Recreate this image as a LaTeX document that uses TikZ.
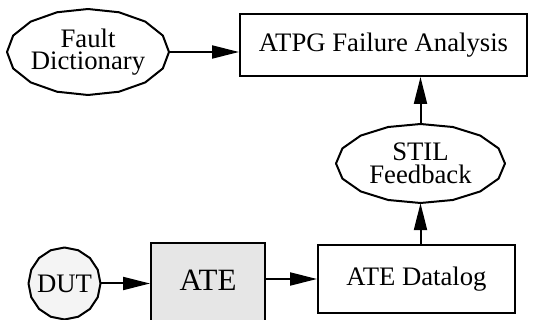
\documentclass[tikz,border=0pt]{standalone}
\usepackage{fontspec}
\setmainfont{Liberation Serif}
\usetikzlibrary{arrows.meta,shapes.geometric}
\definecolor{ategray}{HTML}{E6E6E6}
\definecolor{dutgray}{HTML}{F4F4F4}
\tikzset{
  outline/.style={line width=2pt, line join=round},
  boxnode/.style={rectangle, draw, line width=2pt, inner sep=0pt},
  ovalnode/.style={ellipse, inner sep=0pt},
  txt/.style={font=\fontsize{26.7}{22.5}\selectfont, align=center},
  link/.style={line width=2pt, -{Triangle[length=27pt,width=13pt]}},
}
\begin{document}
\begin{tikzpicture}[x=1pt,y=-1pt]
\useasboundingbox (0,0) rectangle (550,320);

% oval sources, drawn as 16-sided polygons
\node[ovalnode, txt, minimum width=162pt, minimum height=86pt] (fd) at (88,52) {Fault\\Dictionary};
\draw[outline, shift={(fd.center)}] plot[domain=0:360, samples=17] ({81*cos(\x)},{43*sin(\x)}) -- cycle;

\node[ovalnode, txt, minimum width=169pt, minimum height=79pt] (stil) at (420.5,163.5) {STIL\\Feedback};
\draw[outline, shift={(stil.center)}] plot[domain=0:360, samples=17] ({84.5*cos(\x)},{39.5*sin(\x)}) -- cycle;

\node[circle, fill=dutgray, txt, minimum size=72pt, inner sep=0pt] (dut) at (64.5,283.5) {DUT};
\draw[outline, shift={(dut.center)}] plot[domain=0:360, samples=17] ({36*cos(\x)},{36*sin(\x)}) -- cycle;

% process boxes
\node[boxnode, txt, minimum width=287pt, minimum height=62pt] (atpg) at (383.5,45) {ATPG Failure Analysis};
\node[boxnode, txt, minimum width=197pt, minimum height=68pt] (dl) at (416.5,279) {ATE Datalog};
\node[boxnode, fill=ategray, font=\fontsize{31}{31}\selectfont, minimum width=114pt, minimum height=84pt, text height=21pt, text depth=9pt] (ate) at (208,285) {ATE};

% flow
\draw[link] (fd.east) -- (atpg.west |- fd.east);
\draw[link] (dut.east) -- (ate.west |- dut.east);
\draw[link] (ate.east |- dl.west) -- (dl.west);
\draw[link] (dl.north -| stil.south) -- (stil.south);
\draw[link] (stil.north) -- (stil.north |- atpg.south);
\end{tikzpicture}
\end{document}
